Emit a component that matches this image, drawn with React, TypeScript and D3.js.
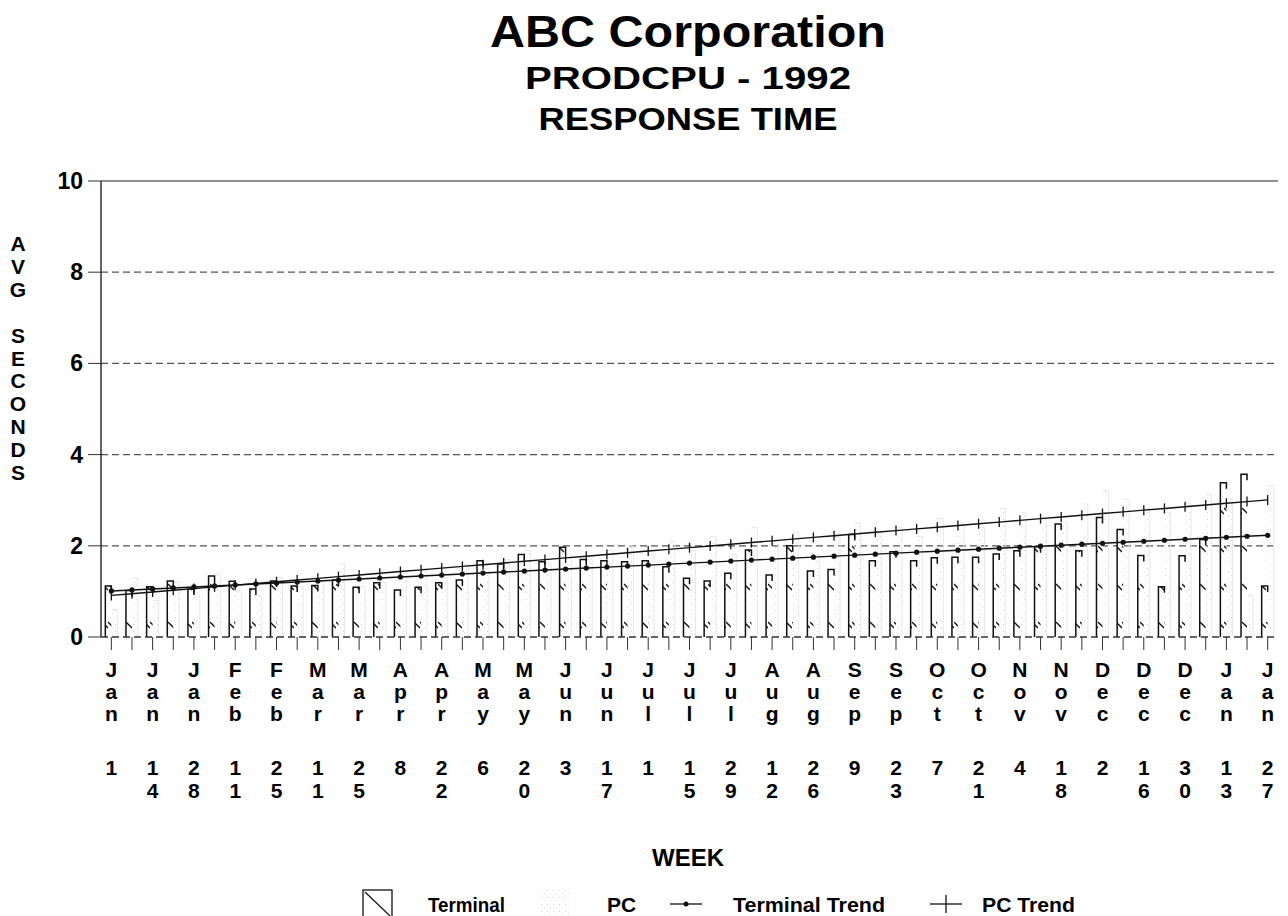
import React, { useEffect, useRef } from 'react';
import * as d3 from 'd3';

// one label every second week, as printed under the axis
const tickLabels = [
    "Jan 1", "Jan 14", "Jan 28", "Feb 11", "Feb 25", "Mar 11", "Mar 25", "Apr 8", "Apr 22",
    "May 6", "May 20", "Jun 3", "Jun 17", "Jul 1", "Jul 15", "Jul 29", "Aug 12", "Aug 26",
    "Sep 9", "Sep 23", "Oct 7", "Oct 21", "Nov 4", "Nov 18", "Dec 2", "Dec 16", "Dec 30",
    "Jan 13", "Jan 27"
];

// weekly average response time in seconds
const terminal = [
    1.12, 1.02, 1.10, 1.23, 1.05, 1.34, 1.22, 1.05, 1.23, 1.12, 1.13, 1.25, 1.09, 1.19,
    1.03, 1.09, 1.19, 1.25, 1.67, 1.60, 1.81, 1.65, 1.97, 1.70, 1.67, 1.65, 1.67, 1.54,
    1.29, 1.23, 1.40, 1.91, 1.36, 2.00, 1.45, 1.48, 2.25, 1.67, 1.87, 1.67, 1.74, 1.75,
    1.75, 1.82, 1.89, 1.98, 2.48, 1.89, 2.62, 2.36, 1.79, 1.10, 1.78, 2.14, 3.38, 3.57, 1.12
];

const pc = [
    0.60, 1.30, 0.80, 1.20, 0.90, 1.40, 1.00, 0.90, 1.30, 1.10, 1.20, 1.60, 1.10, 1.20,
    1.40, 1.50, 1.30, 1.60, 1.50, 1.70, 1.90, 1.60, 1.80, 1.70, 1.90, 2.00, 1.80, 2.10,
    1.90, 2.20, 1.80, 2.40, 2.10, 2.30, 1.80, 2.20, 2.50, 2.30, 2.40, 2.20, 2.60, 2.50,
    2.40, 2.82, 2.72, 2.62, 2.52, 2.92, 3.22, 3.02, 2.82, 2.72, 2.92, 3.12, 3.02, 0.92, 3.32
];

const yTicks = [0, 2, 4, 6, 8, 10];
const yTitle = ["A", "V", "G", "", "S", "E", "C", "O", "N", "D", "S"];

// least squares line, the way the original package drew its trend series
function trend(values: number[]) {
    const xs = values.map((_, i) => i);
    const mx = d3.mean(xs) as number;
    const my = d3.mean(values) as number;
    let num = 0, den = 0;
    xs.forEach((x, i) => {
        num += (x - mx) * (values[i] - my);
        den += (x - mx) * (x - mx);
    });
    const b = num / den;
    const a = my - b * mx;
    return xs.map(x => a + b * x);
}

const FONT = "'Liberation Sans', Arial, sans-serif";

export default function App() {
    const svgRef = useRef<SVGSVGElement | null>(null);

    useEffect(() => {
        if (!svgRef.current) return;
        const svg = d3.select(svgRef.current);
        svg.selectAll("*").remove();

        const width = 1288, height = 916;
        svg.attr("width", width).attr("height", height)
            .style("font-family", FONT).style("font-weight", "bold");

        const weeks = terminal.map((_, i) => i);
        const x = d3.scaleBand<number>().domain(weeks).range([101, 1278]).padding(0);
        const y = d3.scaleLinear().domain([0, 10]).range([637, 181]);
        const cx = (i: number) => (x(i) as number) + x.bandwidth() / 2;
        const bw = 6;

        const defs = svg.append("defs");
        const hatch = defs.append("pattern").attr("id", "hatch")
            .attr("patternUnits", "userSpaceOnUse").attr("width", 6).attr("height", 38);
        hatch.append("rect").attr("width", 6).attr("height", 38).attr("fill", "white");
        hatch.append("path").attr("d", "M0,14 L6,20").attr("stroke", "#111").attr("stroke-width", 1.3);

        const speck = defs.append("pattern").attr("id", "speck")
            .attr("patternUnits", "userSpaceOnUse").attr("width", 6).attr("height", 7);
        speck.append("rect").attr("x", 1).attr("y", 1).attr("width", 1).attr("height", 1).attr("fill", "#d4d4d4");
        speck.append("rect").attr("x", 4).attr("y", 4).attr("width", 1).attr("height", 1).attr("fill", "#e0e0e0");

        // titles
        const titles = [
            { text: "ABC Corporation", y: 47, size: 45, len: 396 },
            { text: "PRODCPU - 1992", y: 89, size: 31, len: 326 },
            { text: "RESPONSE TIME", y: 130, size: 31, len: 299 },
        ];
        svg.selectAll(".title").data(titles).enter().append("text")
            .attr("class", "title")
            .attr("x", 688).attr("y", d => d.y)
            .attr("text-anchor", "middle")
            .attr("font-size", d => d.size)
            .attr("textLength", d => d.len)
            .attr("lengthAdjust", "spacingAndGlyphs")
            .text(d => d.text);

        // grid
        const g = svg.append("g");
        g.selectAll(".grid").data(yTicks.filter(t => t > 0 && t < 10)).enter().append("line")
            .attr("x1", 101).attr("x2", 1278)
            .attr("y1", d => y(d)).attr("y2", d => y(d))
            .attr("stroke", "#555").attr("stroke-width", 1.2).attr("stroke-dasharray", "7,4");
        g.append("line").attr("x1", 101).attr("x2", 1278).attr("y1", y(10)).attr("y2", y(10))
            .attr("stroke", "#222").attr("stroke-width", 1);

        // PC bars
        g.selectAll(".pc").data(pc).enter().append("rect")
            .attr("x", (_, i) => cx(i))
            .attr("y", d => y(d))
            .attr("width", bw)
            .attr("height", d => y(0) - y(d))
            .attr("fill", "url(#speck)");
        g.selectAll(".pcedge").data(pc).enter().append("path")
            .attr("d", (d, i) => `M${cx(i)},${y(d)}H${cx(i) + bw}V${y(0)}`)
            .attr("fill", "none").attr("stroke", "#e8e8e8").attr("stroke-width", 1);

        // Terminal bars
        g.selectAll(".term").data(terminal).enter().append("rect")
            .attr("x", (_, i) => cx(i) - bw)
            .attr("y", d => y(d))
            .attr("width", bw)
            .attr("height", d => y(0) - y(d))
            .attr("fill", "url(#hatch)");
        g.selectAll(".termedge").data(terminal).enter().append("path")
            .attr("d", (d, i) => `M${cx(i) - bw},${y(0)}V${y(d)}H${cx(i)}V${y(d) + 6}`)
            .attr("fill", "none").attr("stroke", "#111").attr("stroke-width", 1.5);

        // baseline and axes
        g.append("line").attr("x1", 101).attr("x2", 1278).attr("y1", y(0)).attr("y2", y(0))
            .attr("stroke", "#333").attr("stroke-width", 1.3).attr("stroke-dasharray", "7,4");
        g.append("line").attr("x1", 101).attr("x2", 101).attr("y1", y(10)).attr("y2", y(0))
            .attr("stroke", "#111").attr("stroke-width", 1.3);
        g.selectAll(".ytick").data(yTicks).enter().append("line")
            .attr("x1", 88).attr("x2", 101).attr("y1", d => y(d)).attr("y2", d => y(d))
            .attr("stroke", "#333").attr("stroke-width", 1);
        g.selectAll(".ylab").data(yTicks).enter().append("text")
            .attr("x", 83).attr("y", d => y(d) + 8)
            .attr("text-anchor", "end").attr("font-size", 23)
            .text(d => d);
        g.selectAll(".xtick").data(weeks).enter().append("line")
            .attr("x1", d => cx(d)).attr("x2", d => cx(d))
            .attr("y1", y(0)).attr("y2", y(0) + 13)
            .attr("stroke", "#333").attr("stroke-width", 1);

        // trend lines
        const termTrend = trend(terminal);
        const pcTrend = trend(pc);
        const line = d3.line<number>().x((_, i) => cx(i)).y(d => y(d));
        g.append("path").attr("d", line(pcTrend)).attr("fill", "none")
            .attr("stroke", "#111").attr("stroke-width", 1.4);
        g.selectAll(".pcmark").data(pcTrend).enter().append("line")
            .attr("x1", (_, i) => cx(i)).attr("x2", (_, i) => cx(i))
            .attr("y1", d => y(d) - 5).attr("y2", d => y(d) + 5)
            .attr("stroke", "#111").attr("stroke-width", 1.3);
        g.append("path").attr("d", line(termTrend)).attr("fill", "none")
            .attr("stroke", "#111").attr("stroke-width", 1.4);
        g.selectAll(".termmark").data(termTrend).enter().append("circle")
            .attr("cx", (_, i) => cx(i)).attr("cy", d => y(d)).attr("r", 2.6)
            .attr("fill", "#111");

        // x labels, stacked one character per line (one text per label)
        const xl = g.append("g").attr("font-size", 21).attr("text-anchor", "middle");
        tickLabels.forEach((lab, k) => {
            const [mon, day] = lab.split(" ");
            const px = cx(k * 2);
            const t = xl.append("text").attr("x", px).attr("y", 677);
            mon.split("").forEach((ch, j) => {
                t.append("tspan").attr("x", px).attr("y", 677 + j * 22).text(ch);
            });
            day.split("").forEach((ch, j) => {
                t.append("tspan").attr("x", px).attr("y", 775 + j * 23).text(ch);
            });
        });

        // y title as one stacked text
        const yt = g.append("text").attr("font-size", 21).attr("text-anchor", "middle");
        yTitle.forEach((ch, j) => {
            if (ch) yt.append("tspan").attr("x", 18).attr("y", 251 + j * 22.9).text(ch);
        });

        svg.append("text").attr("x", 688).attr("y", 866).attr("text-anchor", "middle")
            .attr("font-size", 24).text("WEEK");

        // legend
        const lg = svg.append("g").attr("font-size", 21);
        lg.append("rect").attr("x", 363).attr("y", 890).attr("width", 29).attr("height", 30)
            .attr("fill", "white").attr("stroke", "#111").attr("stroke-width", 1.3);
        lg.append("line").attr("x1", 365).attr("y1", 892).attr("x2", 390).attr("y2", 916)
            .attr("stroke", "#111").attr("stroke-width", 1.2);
        lg.append("text").attr("x", 428).attr("y", 912).attr("textLength", 77)
            .attr("lengthAdjust", "spacingAndGlyphs").text("Terminal");
        lg.append("rect").attr("x", 541).attr("y", 890).attr("width", 30).attr("height", 30)
            .attr("fill", "url(#speck)");
        lg.append("text").attr("x", 607).attr("y", 912).text("PC");
        lg.append("line").attr("x1", 670).attr("x2", 702).attr("y1", 904).attr("y2", 904)
            .attr("stroke", "#111").attr("stroke-width", 1.3);
        lg.append("circle").attr("cx", 686).attr("cy", 904).attr("r", 2.5).attr("fill", "#111");
        lg.append("text").attr("x", 733).attr("y", 912).attr("textLength", 152)
            .attr("lengthAdjust", "spacingAndGlyphs").text("Terminal Trend");
        lg.append("line").attr("x1", 930).attr("x2", 962).attr("y1", 904).attr("y2", 904)
            .attr("stroke", "#111").attr("stroke-width", 1.3);
        lg.append("line").attr("x1", 946).attr("x2", 946).attr("y1", 895).attr("y2", 913)
            .attr("stroke", "#111").attr("stroke-width", 1.3);
        lg.append("text").attr("x", 982).attr("y", 912).attr("textLength", 93)
            .attr("lengthAdjust", "spacingAndGlyphs").text("PC Trend");
    }, []);

    return (
        <svg ref={svgRef} style={{ position: 'absolute', left: 0, top: 0, background: 'white' }}></svg>
    );
}
